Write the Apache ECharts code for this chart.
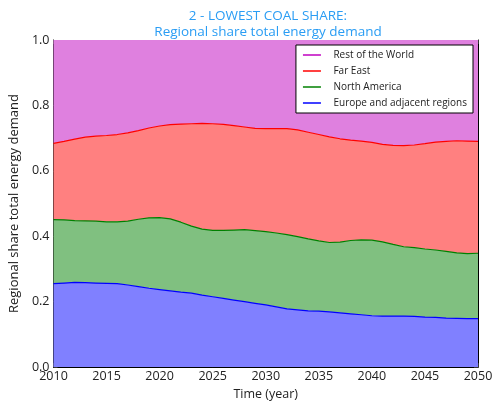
<!DOCTYPE html>
<html>
<head>
<meta charset="utf-8">
<script src="https://cdn.jsdelivr.net/npm/echarts@6/dist/echarts.min.js"></script>
<style>
html,body{margin:0;padding:0;background:#fff;}
#chart{width:498px;height:406px;}
</style>
</head>
<body>
<div id="chart"></div>
<script>
const years = [2010,2011,2012,2013,2014,2015,2016,2017,2018,2019,2020,2021,2022,2023,2024,2025,2026,2027,2028,2029,2030,2031,2032,2033,2034,2035,2036,2037,2038,2039,2040,2041,2042,2043,2044,2045,2046,2047,2048,2049,2050];
const europe = [.255,.257,.259,.258,.257,.256,.255,.251,.246,.241,.237,.233,.229,.226,.220,.215,.210,.205,.200,.195,.190,.184,.178,.175,.172,.171,.169,.166,.163,.160,.157,.156,.156,.156,.155,.153,.152,.150,.149,.148,.148];
const northAmerica = [.196,.193,.189,.189,.189,.188,.189,.195,.206,.215,.220,.220,.214,.205,.202,.203,.208,.214,.220,.222,.224,.226,.227,.224,.220,.215,.212,.216,.224,.229,.231,.227,.219,.212,.210,.208,.206,.204,.200,.199,.200];
const farEast = [.233,.240,.249,.256,.260,.264,.267,.270,.271,.275,.280,.288,.300,.313,.323,.326,.324,.319,.314,.313,.315,.319,.324,.326,.326,.325,.323,.316,.307,.302,.299,.298,.303,.309,.314,.322,.330,.336,.343,.344,.342];
const restOfWorld = [.316,.310,.303,.297,.294,.292,.289,.284,.277,.269,.263,.259,.257,.256,.255,.256,.258,.262,.266,.270,.271,.271,.271,.275,.282,.289,.296,.302,.306,.309,.313,.319,.322,.323,.321,.317,.312,.310,.308,.309,.310];
const xTicks = ['2010','2015','2020','2025','2030','2035','2040','2045','2050'];
const yTicks = [0.0,0.2,0.4,0.6,0.8,1.0];

const FONT = '"Open Sans", "DejaVu Sans", sans-serif';
const cats = years.map(String);
const showTick = (i, v) => xTicks.indexOf(v) >= 0;

const seriesDefs = [
  {name:'Europe and adjacent regions', data:europe, line:'#0000ff', fill:'#8080ff'},
  {name:'North America', data:northAmerica, line:'#008000', fill:'#80c080'},
  {name:'Far East', data:farEast, line:'#ff0000', fill:'#ff8080'},
  {name:'Rest of the World', data:restOfWorld, line:'#bf00bf', fill:'#df80df', hideLine:true}
];

const chart = echarts.init(document.getElementById('chart'), null, {renderer:'canvas'});
const axisLine = {show:true, onZero:false, lineStyle:{color:'#000', width:1}};
const axisTick = {show:true, inside:true, length:4, lineStyle:{color:'#333'}};
chart.setOption({
  backgroundColor:'#fff',
  animation:false,
  textStyle:{fontFamily:FONT},
  title:{
    text:'2 - LOWEST COAL SHARE:\nRegional share total energy demand',
    left:263, textAlign:'center', top:3,
    textStyle:{color:'#2a9df4', fontSize:13.5, fontWeight:'normal', lineHeight:16, fontFamily:FONT}
  },
  grid:{left:48, right:20, top:40, bottom:34, show:false},
  legend:{
    orient:'vertical', right:25, top:45,
    data:['Rest of the World','Far East','North America','Europe and adjacent regions'],
    backgroundColor:'#fff', borderColor:'#000', borderWidth:1, borderRadius:0,
    padding:[3,6,3,7], itemGap:2, itemWidth:18, itemHeight:1.5, icon:'rect',
    textStyle:{fontSize:10, color:'#222', lineHeight:14, padding:[0,0,0,7.5], fontFamily:FONT}
  },
  xAxis:[
    {type:'category', data:cats, boundaryGap:false, position:'bottom',
      name:'Time (year)', nameLocation:'middle', nameGap:17,
      nameTextStyle:{fontSize:12.5, color:'#222', fontFamily:FONT},
      axisLine:axisLine, axisTick:Object.assign({interval:showTick}, axisTick),
      axisLabel:{fontSize:12.5, color:'#222', margin:3, fontFamily:FONT, interval:showTick},
      splitLine:{show:false}},
    {type:'category', data:cats, boundaryGap:false, position:'top',
      axisLine:axisLine, axisTick:Object.assign({interval:showTick}, axisTick),
      axisLabel:{show:false}, splitLine:{show:false}}
  ],
  yAxis:[
    {type:'value', min:0, max:1, interval:0.2, position:'left',
      name:'Regional share total energy demand', nameLocation:'middle', nameGap:19,
      nameTextStyle:{fontSize:13, color:'#222', fontFamily:FONT},
      axisLine:axisLine, axisTick:axisTick, splitLine:{show:false},
      axisLabel:{fontSize:12.5, color:'#222', margin:4, fontFamily:FONT,
        formatter:v=>v.toFixed(1)}},
    {type:'value', min:0, max:1, interval:0.2, position:'right',
      axisLine:axisLine, axisTick:axisTick, splitLine:{show:false},
      axisLabel:{show:false}}
  ],
  series: seriesDefs.map((s, k)=>({
    name:s.name, type:'line', stack:'total', data:s.data,
    xAxisIndex:0, yAxisIndex:0,
    showSymbol:false, symbol:'none', smooth:false, z:6-k,
    itemStyle:{color:s.line},
    lineStyle:{color:s.line, width:s.hideLine?0:1.2, opacity:s.hideLine?0:1},
    areaStyle:{color:s.fill, opacity:1}
  }))
});
</script>
</body>
</html>
